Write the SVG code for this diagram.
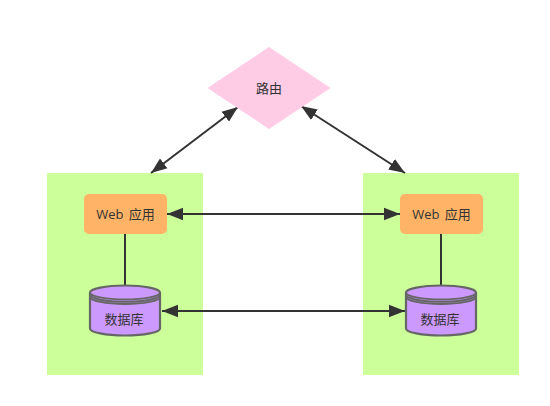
<svg xmlns="http://www.w3.org/2000/svg" width="550" height="406" viewBox="0 0 550 406">
<style>
.group{fill:#ccff99}
.web{fill:#ffb366}
.db{fill:#cc99ff;stroke:#666;stroke-width:2.200}
.band{fill:none;stroke:#666;stroke-width:1.800}
.link{fill:none;stroke:#333;stroke-width:2}
text{font-family:"Open Sans","Noto Sans CJK SC",sans-serif;font-size:13px;fill:#333;text-anchor:middle;word-spacing:2px}
</style>
<defs>
<marker id="a" viewBox="0 0 17 14" refX="16" refY="7" markerWidth="17" markerHeight="14" markerUnits="userSpaceOnUse" orient="auto-start-reverse"><path d="M0 0.800L16 7L0 13.200Z" fill="#333"/></marker>
</defs>
<rect class="group" x="47" y="173" width="156" height="202"/>
<rect class="group" x="363" y="173" width="156" height="202"/>
<g id="connectors">
<path class="link" d="M151 173L238 107" marker-start="url(#a)" marker-end="url(#a)"/>
<path class="link" d="M301 106L405 173" marker-start="url(#a)" marker-end="url(#a)"/>
<path class="link" d="M167 214L400 214" marker-start="url(#a)" marker-end="url(#a)"/>
<path class="link" d="M162 311L405 311" marker-start="url(#a)" marker-end="url(#a)"/>
<path class="link" d="M125 234V286"/>
<path class="link" d="M441 234V286"/>
</g>
<g id="router"><path d="M269 47L330.500 88L269 129L207.500 88Z" fill="#ffcce6"/><text x="269" y="93">路由</text></g>
<g id="web-left"><rect class="web" x="84" y="194" width="83" height="40" rx="5"/><text x="125.500" y="219">Web 应用</text></g>
<g id="web-right"><rect class="web" x="400" y="194" width="83" height="40" rx="5"/><text x="441.500" y="219">Web 应用</text></g>
<g id="db-left" transform="translate(125 0)">
<path class="db" d="M-35 292.500A35 7 0 0 1 35 292.500V328.500A35 7 0 0 1 -35 328.500Z"/>
<path class="band" d="M-35 292.500A35 7 0 0 0 35 292.500M-35 294.800A35 7 0 0 0 35 294.800M-35 297A35 7 0 0 0 35 297"/>
<text x="-1" y="324">数据库</text>
</g>
<g id="db-right" transform="translate(441 0)">
<path class="db" d="M-35 292.500A35 7 0 0 1 35 292.500V328.500A35 7 0 0 1 -35 328.500Z"/>
<path class="band" d="M-35 292.500A35 7 0 0 0 35 292.500M-35 294.800A35 7 0 0 0 35 294.800M-35 297A35 7 0 0 0 35 297"/>
<text x="-1" y="324">数据库</text>
</g>
</svg>
